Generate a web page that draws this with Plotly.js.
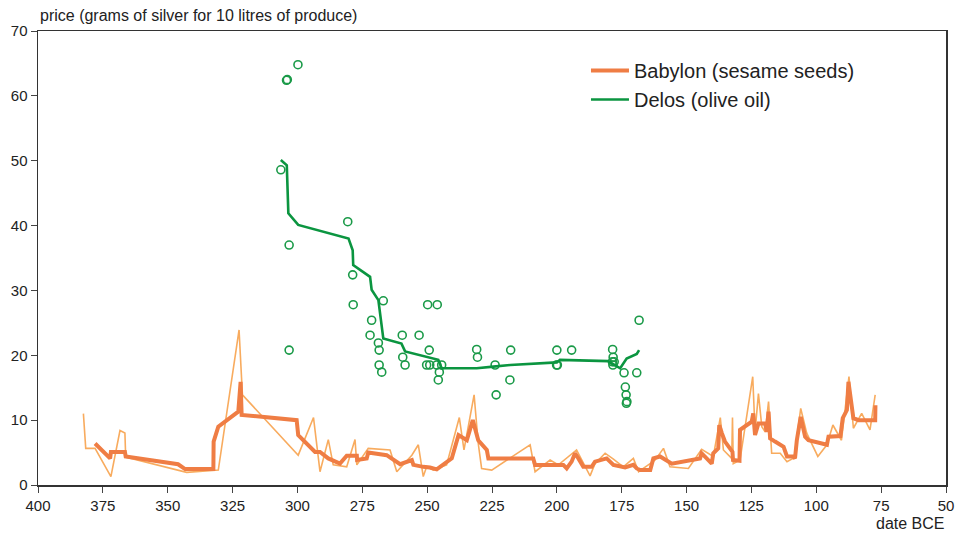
<!DOCTYPE html>
<html>
<head>
<meta charset="utf-8">
<script src="https://cdn.plot.ly/plotly-3.0.1.min.js"></script>
<style>html,body{margin:0;padding:0;background:#fff;}#chart{width:966px;height:535px;}</style>
</head>
<body>
<div id="chart"></div>
<script>
// Babylon (sesame seeds) raw prices: year BCE, grams of silver
const babylonRawYears = [382.5,381.6,378,371.9,368.4,366.5,366.2,346,342.7,330.5,322.5,321.2,299.7,293.8,291.3,288.1,286.2,281,277.8,277.1,272.7,264.3,261.7,255.9,253.4,251.5,250.2,247.6,242.5,237.6,235.8,231.9,230.3,229,225.1,210.3,208.4,202.6,199.4,192.4,187.2,185.3,181.4,178.2,174.4,170.5,168.5,162.1,158.9,156.4,149.3,144.2,139.7,137,135.8,132.6,132.3,132,129.4,124.5,123.6,122.3,121,119.7,118.4,117.2,113.9,111.3,108.5,106,103.7,99.4,95.9,93.6,90.3,87.4,85.7,82.5,79.3,77.3];
const babylonRawValues = [11.0,5.65,5.65,1.3,8.4,8.0,4.3,2.3,1.95,2.3,23.9,13.9,4.6,10.4,2.05,7.0,3.1,2.8,7.0,3.1,5.65,5.4,2.05,4.6,6.2,1.3,2.8,2.3,3.1,10.4,5.4,13.9,6.4,2.55,2.3,6.2,2.05,3.85,3.1,5.4,1.4,3.3,4.9,4.0,2.8,4.1,2.05,3.85,5.65,2.8,2.55,5.5,4.4,10.4,5.4,4.1,10.4,3.3,3.85,16.7,8.2,14.1,9.0,8.2,12.85,4.9,4.9,3.6,4.2,11.8,8.0,4.4,6.2,9.25,6.9,16.7,8.75,11.05,8.5,13.9];

// Babylon smoothed series
const babylonSmoothYears = [378,372.2,371.9,366.5,366.2,346,343.3,332.4,332.3,330.5,322.8,321.9,321.5,300.3,299.7,293.2,291.3,288.1,283.6,281,277.1,277.0,273.3,272.7,265.6,260.4,255.9,255.3,251.5,248.9,246.3,240.5,237.9,234.7,232.4,230.3,227,226.4,209.1,208.4,197.5,196.2,194.3,193,191.7,189.8,186.6,185.3,180.8,178.2,173.7,170.5,169.2,167.9,164,162.8,160.2,155.7,144.8,144.2,140.3,139.7,137.8,137.4,136.4,135.2,132.3,132.1,129.6,129.4,124.9,124.3,123.6,122.3,119.7,119.1,118.4,117.8,115.9,112.6,111.3,108.8,108.2,107.5,106,104.3,103,95.9,95.3,90.7,89.8,88.2,87.6,86.7,85.7,83.7,77.3,77.2];
const babylonSmoothValues = [6.4,4.1,5.1,5.1,4.4,3.2,2.45,2.45,6.7,9.0,11.3,15.9,10.8,10.0,7.7,5.1,5.1,4.1,3.3,4.5,4.5,3.85,4.1,5.0,4.6,3.2,3.85,3.1,2.8,2.7,2.4,4.1,7.7,6.9,10.0,6.9,5.4,4.1,4.1,3.1,3.1,2.55,3.6,4.9,4.1,2.8,2.8,3.6,4.1,3.1,2.7,3.1,2.55,2.3,2.3,4.1,4.4,3.3,4.1,4.9,3.3,4.9,5.65,9.25,8.0,6.7,5.1,3.85,3.75,8.5,9.75,11.05,7.7,9.5,9.5,8.2,11.3,7.2,6.7,5.9,4.4,4.4,4.1,6.9,10.5,7.45,6.9,6.2,7.45,7.55,10.3,11.55,15.9,13.1,10.3,10.0,10.0,12.3];

// Delos (olive oil) individual prices
const delosPointYears = [304.2,303.9,299.8,306.4,303.2,303.2,280.6,278.7,278.5,266.9,271.4,272,268.8,268.5,268.5,267.5,259.6,253.1,259.4,258.5,249.8,246.1,249.2,250.2,249,246.3,244.4,245.3,245.7,230.9,230.6,223.8,223.4,217.8,218.1,200,194.3,200.1,199.8,178.5,178.3,178.6,177.9,178.4,174.1,169.2,168.3,173.6,173.3,173,173.2];
const delosPointValues = [62.4,62.5,64.8,48.6,37.0,20.8,40.6,32.4,27.8,28.4,25.4,23.1,21.9,20.8,18.5,17.4,23.1,23.1,19.7,18.5,27.8,27.8,20.8,18.5,18.5,18.5,18.5,17.4,16.2,20.9,19.7,18.5,13.9,20.8,16.2,20.8,20.8,18.5,18.5,20.9,19.7,19.0,19.0,18.5,17.3,17.3,25.4,15.1,13.9,12.85,12.6];

// Delos smoothed series
const delosSmoothYears = [306.4,304.1,303.5,299.7,280.3,278.7,278.5,272,271.4,268.8,266.9,259.9,258.5,250.2,245.7,244.4,241.2,230.9,224.5,218,200,198.8,180.2,175.6,173.1,169.2,168.3];
const delosSmoothValues = [50.1,49.3,41.9,40.1,38.0,36.2,33.9,32.1,30.1,28.5,22.6,21.8,20.6,19.8,19.3,18.0,18.0,18.0,18.25,18.5,18.9,19.3,19.1,18.0,19.5,20.2,20.8];

const xTicks = [400,375,350,325,300,275,250,225,200,175,150,125,100,75,50];
const yTicks = [0,10,20,30,40,50,60,70];

const traces = [
  {x: babylonRawYears, y: babylonRawValues, type:'scatter', mode:'lines',
   line:{color:'#f7a24c', width:1.6}, opacity:0.9, showlegend:false, hoverinfo:'skip'},
  {x: babylonSmoothYears, y: babylonSmoothValues, type:'scatter', mode:'lines',
   name:'Babylon (sesame seeds)', line:{color:'#ef7d44', width:4}},
  {x: delosPointYears, y: delosPointValues, type:'scatter', mode:'markers',
   showlegend:false, marker:{symbol:'circle-open', size:8, color:'#1a9a48', line:{width:1.6, color:'#1a9a48'}}},
  {x: delosSmoothYears, y: delosSmoothValues, type:'scatter', mode:'lines',
   name:'Delos (olive oil)', line:{color:'#0b9540', width:2.6}}
];

const fam = 'Liberation Sans, Arial, sans-serif';
const tickFont = {family:fam, size:15, color:'#222'};
const titleFont = {family:fam, size:16, color:'#222'};

const layout = {
  width:966, height:535,
  margin:{l:38, r:20, t:31, b:50},
  paper_bgcolor:'#fff', plot_bgcolor:'#fff',
  font: tickFont,
  showlegend:true,
  legend:{x:0.6035, y:0.956, xanchor:'left', yanchor:'top', bgcolor:'rgba(0,0,0,0)', itemwidth:38,
          font:{family:fam, size:20, color:'#222'}, tracegroupgap:0},
  xaxis:{range:[400,50], tickvals:xTicks, ticktext:xTicks.map(String), ticks:'outside', ticklen:6,
         tickcolor:'#444', showline:true, linecolor:'#333', linewidth:1.5, mirror:true,
         showgrid:false, zeroline:false, tickfont:tickFont},
  yaxis:{range:[0,70], tickvals:yTicks, ticktext:yTicks.map(String), ticks:'outside', ticklen:6,
         tickcolor:'#444', showline:true, linecolor:'#333', linewidth:1.5, mirror:true,
         showgrid:false, zeroline:false, tickfont:tickFont},
  annotations:[
    {text:'price (grams of silver for 10 litres of produce)', xref:'paper', yref:'paper', x:0, y:1,
     xanchor:'left', yanchor:'bottom', yshift:5, showarrow:false, font:titleFont},
    {text:'date BCE', xref:'paper', yref:'paper', x:1, y:0, xanchor:'right', yanchor:'top',
     yshift:-28, showarrow:false, font:titleFont}
  ]
};

Plotly.newPlot('chart', traces, layout, {displayModeBar:false, staticPlot:true});
</script>
</body>
</html>
